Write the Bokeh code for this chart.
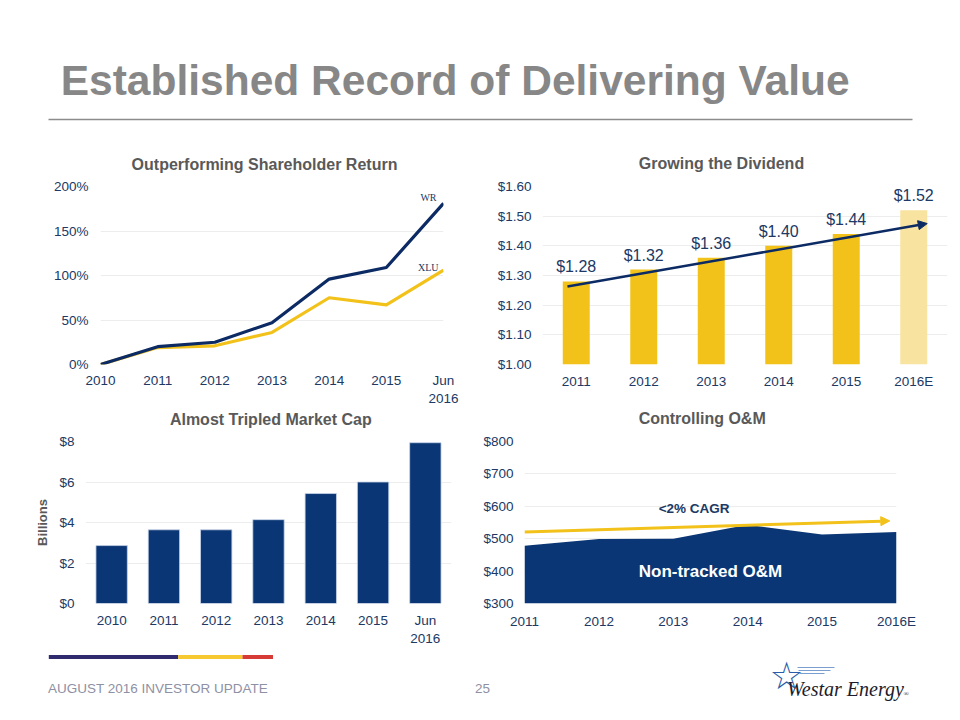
from bokeh.plotting import figure
from bokeh.layouts import column, row
from bokeh.models import (Range1d, FixedTicker, PrintfTickFormatter, Label, LabelSet,
                          ColumnDataSource, Arrow, NormalHead, BoxAnnotation)
from bokeh.core.properties import value
from bokeh.embed import file_html
from bokeh.resources import INLINE

# ---------------- data ----------------
tsr_periods = ["2010", "2011", "2012", "2013", "2014", "2015", "Jun\n2016"]
tsr_wr = [0, 20, 25, 47, 96, 109, 181]
tsr_xlu = [0, 19, 21, 36, 75, 67, 106]
tsr_ticks = [0, 50, 100, 150, 200]

div_years = ["2011", "2012", "2013", "2014", "2015", "2016E"]
div_values = [1.28, 1.32, 1.36, 1.40, 1.44, 1.52]
div_trend = [1.263, 1.475]
div_ticks = [1.00, 1.10, 1.20, 1.30, 1.40, 1.50, 1.60]

cap_periods = ["2010", "2011", "2012", "2013", "2014", "2015", "Jun\n2016"]
cap_values = [2.86, 3.64, 3.64, 4.14, 5.43, 6.00, 7.94]
cap_ticks = [0, 2, 4, 6, 8]

om_years = ["2011", "2012", "2013", "2014", "2015", "2016E"]
om_values = [478, 499, 500, 543, 513, 521]
om_trend = [521, 555]
om_ticks = [300, 400, 500, 600, 700, 800]

# ---------------- style ----------------
FONT = "Liberation Sans"
NAVY_TXT = "#203864"
NAVY = "#0b3675"
LINE_NAVY = "#0c2b64"
GOLD = "#f2c21b"
PALE = "#f8e3a0"
GRID = "#ededed"
TITLE_C = "#595959"


def base_fig(width, height, x_range, y_range, borders):
    l, r, t, b = borders
    p = figure(width=width, height=height, x_range=x_range, y_range=y_range,
               output_backend="svg", toolbar_location=None,
               min_border_left=l, min_border_right=r,
               min_border_top=t, min_border_bottom=b)
    p.title.visible = False
    p.outline_line_color = None
    p.xgrid.visible = False
    p.ygrid.grid_line_color = GRID
    p.ygrid.grid_line_width = 1
    for ax in p.axis:
        ax.axis_line_color = None
        ax.major_tick_line_color = None
        ax.minor_tick_line_color = None
        ax.major_tick_out = 0
        ax.major_label_text_font = FONT
        ax.major_label_text_font_size = "13.5px"
        ax.major_label_text_color = NAVY_TXT
    return p


def blank(width, height):
    p = figure(width=width, height=height, x_range=Range1d(0, width), y_range=Range1d(0, height),
               output_backend="svg", toolbar_location=None, min_border=0)
    p.title.visible = False
    p.axis.visible = False
    p.grid.visible = False
    p.outline_line_color = None
    return p


def chart_title(p, x, y, text):
    p.add_layout(Label(x=x, y=y, text=text, text_align="center", text_baseline="middle",
                       text_font=FONT, text_font_size="16px", text_font_style="bold",
                       text_color=TITLE_C))


# ---------- 1. Outperforming Shareholder Return ----------
n1 = len(tsr_periods)
idx1 = list(range(n1))
p1 = base_fig(480, 233, Range1d(0, n1 - 1), Range1d(tsr_ticks[0], tsr_ticks[-1]),
              (100, 37, 11, 42))
p1.yaxis.ticker = FixedTicker(ticks=tsr_ticks)
p1.yaxis.formatter = PrintfTickFormatter(format="%d%%")
p1.yaxis.major_label_standoff = 12
p1.xaxis.ticker = FixedTicker(ticks=idx1)
p1.xaxis.major_label_overrides = {i: s for i, s in enumerate(tsr_periods)}
p1.xaxis.major_label_standoff = 8
p1.line(idx1, tsr_xlu, line_color=GOLD, line_width=3.2)
p1.line(idx1, tsr_wr, line_color=LINE_NAVY, line_width=3.2)
p1.add_layout(Label(x=idx1[-1], y=tsr_wr[-1], text="WR", x_offset=-7, y_offset=6,
                    text_align="right", text_baseline="middle",
                    text_font="Liberation Serif", text_font_size="10px", text_color=NAVY_TXT))
p1.add_layout(Label(x=idx1[-1], y=tsr_xlu[-1], text="XLU", x_offset=-5, y_offset=3,
                    text_align="right", text_baseline="middle",
                    text_font="Liberation Serif", text_font_size="10px", text_color=NAVY_TXT))

# ---------- 2. Growing the Dividend ----------
n2 = len(div_years)
idx2 = list(range(n2))
p2 = base_fig(472, 233, Range1d(-0.5, n2 - 0.5), Range1d(div_ticks[0], div_ticks[-1]),
              (62, 5, 11, 40))
p2.yaxis.ticker = FixedTicker(ticks=div_ticks)
p2.yaxis.formatter = PrintfTickFormatter(format="$%.2f")
p2.yaxis.major_label_standoff = 11
p2.xaxis.ticker = FixedTicker(ticks=idx2)
p2.xaxis.major_label_overrides = {i: s for i, s in enumerate(div_years)}
p2.xaxis.major_label_standoff = 9
src2 = ColumnDataSource(dict(
    x=idx2, top=div_values,
    color=[PALE if y.endswith("E") else GOLD for y in div_years],
    label=["$%.2f" % v for v in div_values]))
p2.vbar(x="x", top="top", bottom=div_ticks[0], width=0.4, fill_color="color",
        line_color=None, source=src2)
p2.add_layout(LabelSet(x="x", y="top", text="label", source=src2, y_offset=9,
                       text_align="center", text_baseline="alphabetic",
                       text_font=value(FONT), text_font_size=value("16px"),
                       text_color=NAVY_TXT))
p2.add_layout(Arrow(end=NormalHead(size=9, fill_color=LINE_NAVY, line_color=LINE_NAVY),
                    x_start=idx2[0] - 0.13, y_start=div_trend[0],
                    x_end=idx2[-1] + 0.2, y_end=div_trend[1],
                    line_color=LINE_NAVY, line_width=2.5))

# ---------- 3. Almost Tripled Market Cap ----------
n3 = len(cap_periods)
idx3 = list(range(n3))
p3 = base_fig(480, 224, Range1d(-0.5, n3 - 0.5), Range1d(cap_ticks[0], cap_ticks[-1]),
              (85, 29, 11, 45))
p3.yaxis.ticker = FixedTicker(ticks=cap_ticks)
p3.yaxis.formatter = PrintfTickFormatter(format="$%d")
p3.yaxis.major_label_standoff = 11
p3.yaxis.axis_label = "Billions"
p3.yaxis.axis_label_text_font = FONT
p3.yaxis.axis_label_text_font_size = "13px"
p3.yaxis.axis_label_text_font_style = "bold"
p3.yaxis.axis_label_text_color = TITLE_C
p3.yaxis.axis_label_standoff = 6
p3.xaxis.ticker = FixedTicker(ticks=idx3)
p3.xaxis.major_label_overrides = {i: s for i, s in enumerate(cap_periods)}
p3.xaxis.major_label_standoff = 9
p3.vbar(x=idx3, top=cap_values, bottom=cap_ticks[0], width=0.6,
        fill_color=NAVY, line_color="#c8d4e8", line_width=0.8)

# ---------- 4. Controlling O&M ----------
n4 = len(om_years)
idx4 = list(range(n4))
p4 = base_fig(472, 224, Range1d(0, n4 - 1), Range1d(om_ticks[0], om_ticks[-1]),
              (43, 56, 10, 51))
p4.yaxis.ticker = FixedTicker(ticks=om_ticks)
p4.yaxis.formatter = PrintfTickFormatter(format="$%d")
p4.yaxis.major_label_standoff = 11
p4.xaxis.ticker = FixedTicker(ticks=idx4)
p4.xaxis.major_label_overrides = {i: s for i, s in enumerate(om_years)}
p4.xaxis.major_label_standoff = 10
p4.varea(x=idx4, y1=[om_ticks[0]] * n4, y2=om_values, fill_color=NAVY)
p4.add_layout(Arrow(end=NormalHead(size=9, fill_color=GOLD, line_color=GOLD),
                    x_start=idx4[0], y_start=om_trend[0],
                    x_end=idx4[-1] - 0.09, y_end=om_trend[1],
                    line_color=GOLD, line_width=3))
p4.add_layout(Label(x=2.5, y=400, text="Non-tracked O&M", text_align="center",
                    text_baseline="middle", text_font=FONT, text_font_size="17px",
                    text_font_style="bold", text_color="white"))
p4.add_layout(Label(x=2.28, y=593, text="<2% CAGR", text_align="center",
                    text_baseline="middle", text_font=FONT, text_font_size="13.5px",
                    text_font_style="bold", text_color=NAVY_TXT))

# ---------- chart title strips ----------
strip1 = blank(952, 35)
chart_title(strip1, 264, 11.3, "Outperforming Shareholder Return")
chart_title(strip1, 721, 12, "Growing the Dividend")
strip2 = blank(952, 22)
chart_title(strip2, 270.3, 10.7, "Almost Tripled Market Cap")
chart_title(strip2, 701.7, 12, "Controlling O&M")

# ---------- header / footer ----------
head = blank(952, 140)
head.add_layout(Label(x=60.2, y=60, text="Established Record of Delivering Value",
                      text_font=FONT, text_font_size="42.5px", text_font_style="bold",
                      text_color="#878787", text_baseline="middle"))
head.add_layout(BoxAnnotation(left=48, right=912, bottom=20.3, top=21.7,
                              fill_color="#8c8c8c", fill_alpha=1, line_alpha=0))

foot = blank(952, 58)
for l, r, c in [(48.3, 177.7, "#2f2b6e"), (177.7, 242, "#f7c930"), (242, 272.5, "#d63b35")]:
    foot.add_layout(BoxAnnotation(left=l, right=r, bottom=53.4, top=57.4,
                                  fill_color=c, fill_alpha=1, line_alpha=0))
foot.add_layout(Label(x=47.5, y=24.3, text="AUGUST 2016 INVESTOR UPDATE", text_font=FONT,
                      text_font_size="13.5px", text_color="#8e90a4", text_baseline="middle"))
foot.add_layout(Label(x=482, y=24.3, text="25", text_font=FONT, text_align="center",
                      text_font_size="13.5px", text_color="#8e90a4", text_baseline="middle"))
foot.add_layout(Label(x=786, y=37, text="\u2606", text_font="DejaVu Sans", text_align="center",
                      text_baseline="middle", text_font_size="38px", text_color="#2a5caa"))
for yy, l, r in [(45, 797, 834), (42, 798, 830), (39, 799, 824)]:
    foot.add_layout(BoxAnnotation(left=l, right=r, bottom=yy - 0.4, top=yy + 0.4,
                                  fill_color="#5a86c5", fill_alpha=0.8, line_alpha=0))
foot.add_layout(Label(x=786.5, y=24, text="Westar Energy", text_font="Liberation Serif",
                      text_font_style="italic", text_font_size="20px", text_color="#1c1c2c",
                      text_baseline="middle"))
foot.add_layout(Label(x=903, y=19, text="\u00ae", text_font="Liberation Serif",
                      text_font_size="7px", text_color="#1c1c2c", text_baseline="middle"))

layout = column(head, strip1, row(p1, p2), strip2, row(p3, p4), foot)

with open("out.html", "w") as f:
    f.write(file_html(layout, INLINE))
